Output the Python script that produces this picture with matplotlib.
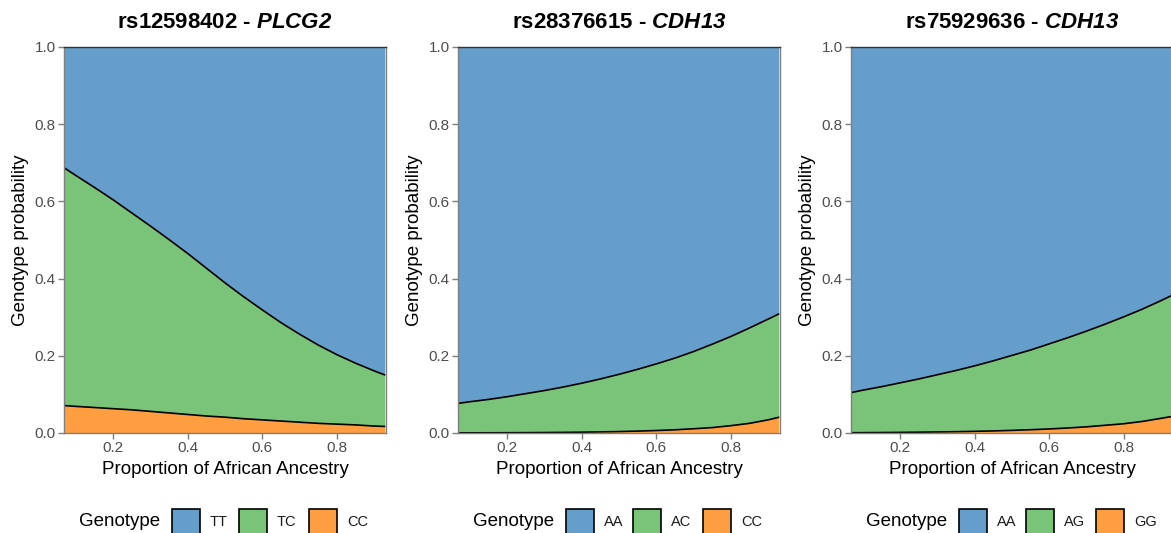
import matplotlib
matplotlib.use("Agg")
import matplotlib.pyplot as plt
from matplotlib.patches import Rectangle
import numpy as np

plt.rcParams['font.family'] = ['Liberation Sans', 'DejaVu Sans']
plt.rcParams['mathtext.fontset'] = 'custom'
plt.rcParams['mathtext.it'] = 'Liberation Sans:italic:bold'
plt.rcParams['mathtext.rm'] = 'Liberation Sans:italic:bold'

# ---------------- data ----------------
ancestry = [0.07, 0.1, 0.15, 0.2, 0.25, 0.3, 0.35, 0.4, 0.45, 0.5, 0.55,
            0.6, 0.65, 0.7, 0.75, 0.8, 0.85, 0.9, 0.93]

snp_ids = ["rs12598402", "rs28376615", "rs75929636"]
genes = ["PLCG2", "CDH13", "CDH13"]
genotype_labels = [["TT", "TC", "CC"], ["AA", "AC", "CC"], ["AA", "AG", "GG"]]

# panel 1: rs12598402 - PLCG2
p1_TT = [0.314, 0.333, 0.364, 0.396, 0.430, 0.464, 0.499, 0.535, 0.573, 0.611,
         0.647, 0.681, 0.714, 0.744, 0.772, 0.797, 0.819, 0.839, 0.850]
p1_TC = [0.615, 0.598, 0.570, 0.541, 0.510, 0.480, 0.449, 0.417, 0.383, 0.348,
         0.316, 0.285, 0.255, 0.228, 0.203, 0.180, 0.160, 0.143, 0.133]
p1_CC = [0.071, 0.069, 0.066, 0.063, 0.060, 0.056, 0.052, 0.048, 0.044, 0.041,
         0.037, 0.034, 0.031, 0.028, 0.025, 0.023, 0.021, 0.018, 0.017]

# panel 2: rs28376615 - CDH13
p2_AA = [0.923, 0.919, 0.913, 0.906, 0.898, 0.890, 0.881, 0.871, 0.860, 0.848,
         0.835, 0.821, 0.806, 0.789, 0.770, 0.750, 0.728, 0.705, 0.691]
p2_AC = [0.0767, 0.0806, 0.0865, 0.0933, 0.1011, 0.1088, 0.1174, 0.1269, 0.1372, 0.1483,
         0.1601, 0.1726, 0.1857, 0.200, 0.216, 0.231, 0.247, 0.261, 0.268]
p2_CC = [0.0003, 0.0004, 0.0005, 0.0007, 0.0009, 0.0012, 0.0016, 0.0021, 0.0028, 0.0037,
         0.0049, 0.0064, 0.0083, 0.011, 0.014, 0.019, 0.025, 0.034, 0.041]

# panel 3: rs75929636 - CDH13
p3_AA = [0.895, 0.889, 0.880, 0.870, 0.860, 0.849, 0.838, 0.826, 0.813, 0.799,
         0.785, 0.769, 0.753, 0.736, 0.718, 0.699, 0.679, 0.657, 0.643]
p3_AG = [0.1043, 0.1101, 0.1188, 0.1284, 0.1379, 0.1483, 0.1586, 0.1697, 0.1816, 0.1942,
         0.2065, 0.2205, 0.234, 0.248, 0.262, 0.277, 0.291, 0.305, 0.314]
p3_GG = [0.0007, 0.0009, 0.0012, 0.0016, 0.0021, 0.0027, 0.0034, 0.0043, 0.0054, 0.0068,
         0.0085, 0.0105, 0.013, 0.016, 0.020, 0.024, 0.030, 0.038, 0.043]

panels = [(p1_TT, p1_TC, p1_CC), (p2_AA, p2_AC, p2_CC), (p3_AA, p3_AG, p3_GG)]

colors = ["#659DCB", "#7AC47A", "#FF9E40"]  # homozygous ref, het, homozygous alt

# ---------------- layout ----------------
W, H = 1171, 533
fig = plt.figure(figsize=(W / 100, H / 100), dpi=100)

def fx(px):
    return px / W

def fy(py):
    return 1 - py / H

ax_lefts = [64, 458, 851]
ax_w = 322
ax_top, ax_bot = 47, 433
gray = "#4D4D4D"
spine_gray = "#7F7F7F"

for i, (left, (top_s, mid_s, bot_s)) in enumerate(zip(ax_lefts, panels)):
    ax = fig.add_axes([fx(left), fy(ax_bot), ax_w / W, (ax_bot - ax_top) / H])
    x = np.array(ancestry)
    layers = [np.array(bot_s), np.array(mid_s), np.array(top_s)]
    ax.stackplot(x, layers, colors=[colors[2], colors[1], colors[0]], linewidth=0)
    cum = np.cumsum(layers, axis=0)
    for k in range(2):
        ax.plot(x, cum[k], color="black", linewidth=1.2, solid_capstyle="butt",
                solid_joinstyle="round")
    ax.set_xlim(0.068, 0.932)
    ax.set_ylim(0, 1.0)
    ax.set_xticks([0.2, 0.4, 0.6, 0.8])
    ax.set_xticklabels(["0.2", "0.4", "0.6", "0.8"])
    ax.set_yticks([0.0, 0.2, 0.4, 0.6, 0.8, 1.0])
    ax.set_yticklabels(["0.0", "0.2", "0.4", "0.6", "0.8", "1.0"])
    for s in ax.spines.values():
        s.set_color(spine_gray)
        s.set_linewidth(1.0)
    ax.spines["top"].set_color("#333333")
    ax.tick_params(axis="both", direction="out", length=4, width=1.0,
                   color=spine_gray, labelcolor=gray, labelsize=11, pad=2)
    ax.set_xlabel("Proportion of African Ancestry", fontsize=13.5, labelpad=4)
    ax.set_ylabel("Genotype probability", fontsize=13.5, labelpad=4)
    ax.set_title(snp_ids[i] + r" - $\mathit{" + genes[i] + "}$",
                 fontsize=16, fontweight="bold", pad=14)

    # legend (ggplot-style, horizontal with left title)
    base = left
    fig.text(fx(base + 15), fy(522), "Genotype", fontsize=13.5,
             ha="left", va="center")
    box_x = [base + 108, base + 175, base + 245]
    for j in range(3):
        bx = box_x[j]
        fig.patches.append(Rectangle((fx(bx), fy(537)), 28 / W, 28 / H,
                                     transform=fig.transFigure,
                                     facecolor=colors[j], edgecolor="black",
                                     linewidth=1.2))
        fig.text(fx(bx + 38), fy(522), genotype_labels[i][j], fontsize=10.5,
                 ha="left", va="center", color="#1A1A1A")

fig.savefig("out.png", dpi=100)
